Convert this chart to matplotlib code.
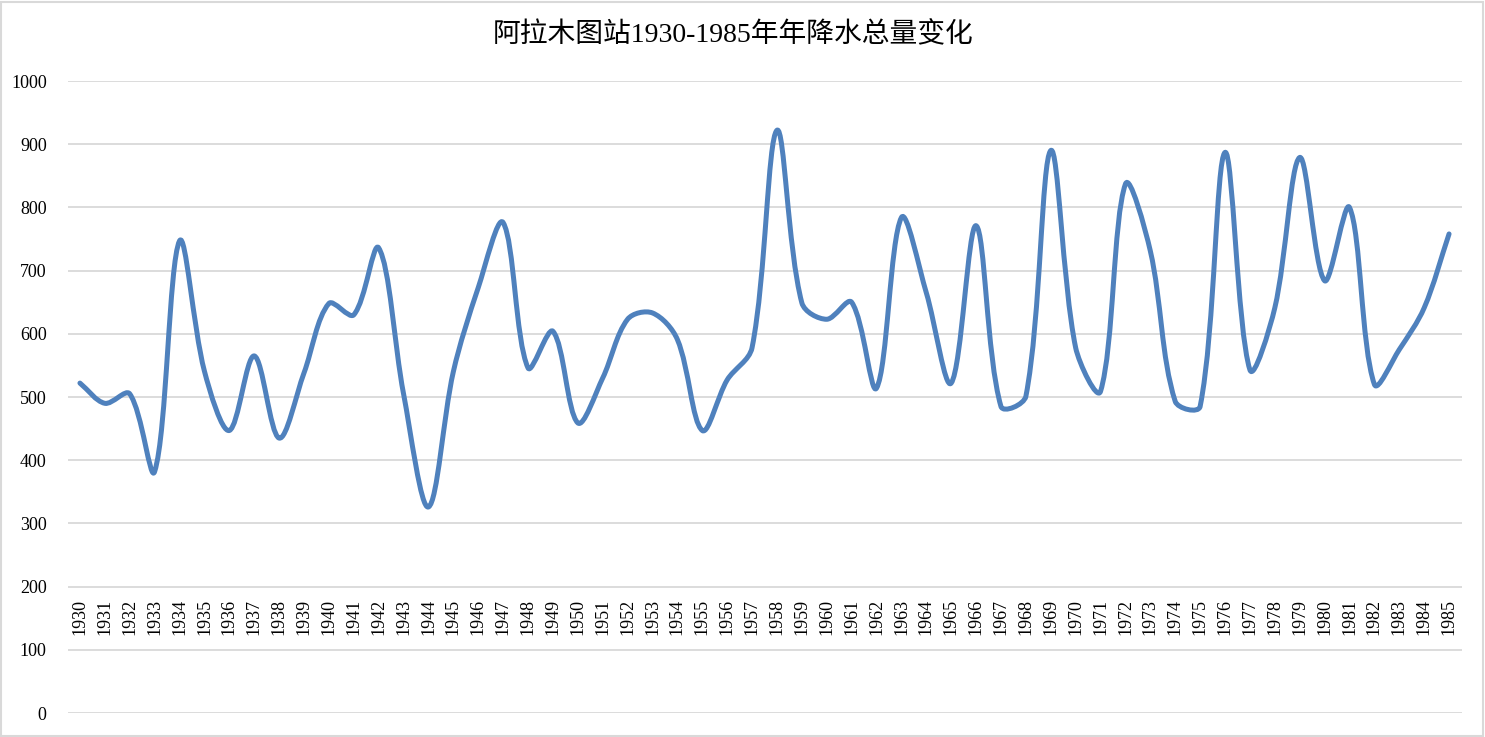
import matplotlib
matplotlib.use('Agg')
import matplotlib.pyplot as plt
from matplotlib.path import Path
from matplotlib.patches import PathPatch, Rectangle
import numpy as np

# annual precipitation, Almaty station
years = list(range(1930, 1986))
precip = [522, 490, 505, 382, 747, 541, 447, 565, 435, 538,
          648, 630, 736, 505, 326, 540, 673, 776, 546, 604,
          459, 530, 623, 633, 591, 447, 527, 578, 922, 649,
          623, 650, 514, 784, 665, 522, 771, 485, 501, 890,
          578, 509, 837, 731, 493, 485, 887, 543, 641, 879,
          684, 800, 520, 575, 641, 758]
yticks = list(range(0, 1001, 100))
title = '阿拉木图站1930-1985年年降水总量变化'

LINE_COLOR = '#4F81BD'
GRID_COLOR = '#D9D9D9'


def smooth_path(xs, ys, sx=24.9, sy=0.632):
    """Excel-like smoothed line: cubic Bezier with length-weighted tangents."""
    pts = np.column_stack([xs, ys]).astype(float)
    scale = np.array([sx, sy])
    n = len(pts)

    def dist(a, b):
        return np.hypot(*((pts[a] - pts[b]) * scale))

    verts = [pts[0]]
    codes = [Path.MOVETO]
    for i in range(n - 1):
        i0 = max(i - 1, 0)
        i3 = min(i + 2, n - 1)
        d01, d12, d23 = dist(i0, i), dist(i, i + 1), dist(i + 1, i3)
        if i0 == i:
            c1 = pts[i] + (pts[i + 1] - pts[i]) / 3.0
        else:
            c1 = pts[i] + (pts[i + 1] - pts[i0]) / 3.0 * d12 / (d01 + d12)
        if i3 == i + 1:
            c2 = pts[i + 1] - (pts[i + 1] - pts[i]) / 3.0
        else:
            c2 = pts[i + 1] - (pts[i3] - pts[i]) / 3.0 * d12 / (d12 + d23)
        verts += [c1, c2, pts[i + 1]]
        codes += [Path.CURVE4] * 3
    return Path(verts, codes)


fig = plt.figure(figsize=(14.85, 7.37), dpi=100)
ax = fig.add_axes([67.5 / 1485, 24 / 737, 1394 / 1485, 632 / 737])
ax.spines['bottom'].set_position(('data', 200))
for s in ax.spines.values():
    s.set_visible(False)

x = np.arange(len(years))
ax.add_patch(PathPatch(smooth_path(x, precip), facecolor='none',
                       edgecolor=LINE_COLOR, lw=3.6, capstyle='round',
                       joinstyle='round', zorder=3))

ax.set_xlim(-0.5, len(years) - 0.5)
ax.set_ylim(0, 1000)
ax.set_yticks(yticks)
ax.set_yticklabels([str(v) for v in yticks], family='Liberation Serif', fontsize=13)
ax.set_xticks(x)
ax.set_xticklabels([str(y) for y in years], rotation=90, family='Liberation Serif',
                   fontsize=13, va='top')
ax.tick_params(axis='y', length=0, pad=15)
ax.tick_params(axis='x', length=0, pad=9)
ax.yaxis.grid(True, color=GRID_COLOR, lw=1.3)
ax.set_axisbelow(True)

fig.text(733 / 1485, 1 - 35 / 737, title, ha='center', va='center', fontsize=20,
         family=['Liberation Serif', 'Noto Sans CJK SC'])

fig.patches.append(Rectangle((1 / 1485, 1 / 737), 1482 / 1485, 734 / 737,
                             transform=fig.transFigure, fill=False,
                             edgecolor=GRID_COLOR, lw=1.5))

fig.savefig('out.png', dpi=100)
